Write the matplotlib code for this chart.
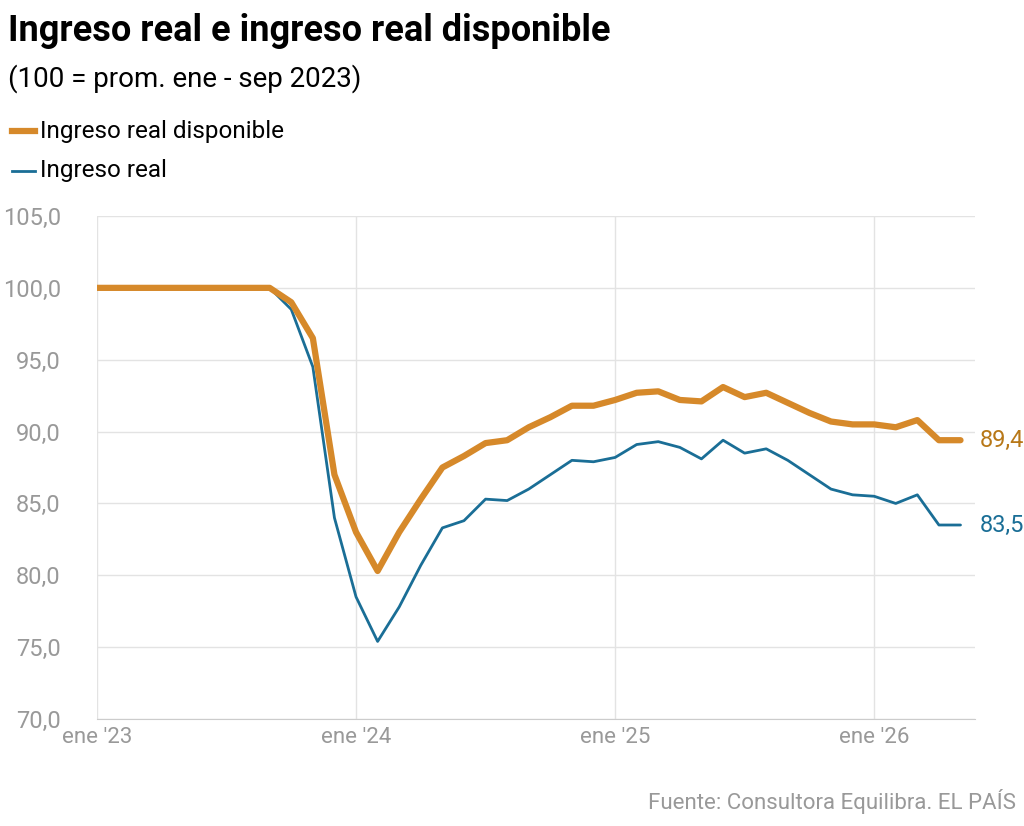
import matplotlib
matplotlib.use("Agg")
import matplotlib.pyplot as plt
import numpy as np

months = list(range(41))
disponible = [100]*9 + [99.0, 96.5, 87.0, 83.0, 80.3, 83.0, 85.3, 87.5, 88.3, 89.2, 89.4,
              90.3, 91.0, 91.8, 91.8, 92.2, 92.7, 92.8, 92.2, 92.1, 93.1, 92.4, 92.7,
              92.0, 91.3, 90.7, 90.5, 90.5, 90.3, 90.8, 89.4, 89.4]
real = [100]*9 + [98.5, 94.5, 84.0, 78.5, 75.4, 77.8, 80.7, 83.3, 83.8, 85.3, 85.2,
        86.0, 87.0, 88.0, 87.9, 88.2, 89.1, 89.3, 88.9, 88.1, 89.4, 88.5, 88.8,
        88.0, 87.0, 86.0, 85.6, 85.5, 85.0, 85.6, 83.5, 83.5]
xticks = [0, 12, 24, 36]
xlabels = ["ene '23", "ene '24", "ene '25", "ene '26"]
yticks = [70, 75, 80, 85, 90, 95, 100, 105]

plt.rcParams['font.family'] = ['Roboto', 'DejaVu Sans']
orange = '#d6892a'
blue = '#1a6e96'
grey = '#999999'

fig = plt.figure(figsize=(10.24, 8.26), dpi=100)
ax = fig.add_axes([0.0947, 0.1295, 0.857, 0.609])
ax.plot(months, real, color=blue, lw=2, solid_capstyle='round', solid_joinstyle='round')
ax.plot(months, disponible, color=orange, lw=4.5, solid_capstyle='round', solid_joinstyle='round')
ax.set_xlim(0, 40.65)
ax.set_ylim(70, 105)
ax.set_yticks(yticks)
ax.set_yticklabels([f"{v:.1f}".replace('.', ',') for v in yticks], color=grey, fontsize=17)
ax.set_xticks(xticks)
ax.set_xticklabels(xlabels, color=grey, fontsize=16)
ax.grid(True, color='#e3e3e3', lw=1)
for s in ['top', 'right', 'left']:
    ax.spines[s].set_visible(False)
ax.spines['bottom'].set_color('#cccccc')
ax.tick_params(axis='y', length=0, pad=26)
ax.tick_params(axis='x', length=0, pad=6)
ax.text(40.9, disponible[-1], "89,4", color='#b87818', fontsize=17, va='center')
ax.text(40.9, real[-1], "83,5", color=blue, fontsize=17, va='center')

fig.text(0.008, 0.962, "Ingreso real e ingreso real disponible", fontsize=26, fontweight='bold', va='center')
fig.text(0.008, 0.905, "(100 = prom. ene - sep 2023)", fontsize=20, va='center')
fig.lines.append(plt.Line2D([0.012, 0.034], [0.841, 0.841], color=orange, lw=4.5, transform=fig.transFigure))
fig.text(0.039, 0.841, "Ingreso real disponible", fontsize=17.5, va='center')
fig.lines.append(plt.Line2D([0.012, 0.034], [0.793, 0.793], color=blue, lw=2, transform=fig.transFigure))
fig.text(0.039, 0.793, "Ingreso real", fontsize=17.5, va='center')
fig.text(0.992, 0.03, "Fuente: Consultora Equilibra. EL PAÍS", fontsize=16, color=grey, ha='right', va='center')
fig.savefig("out.png", dpi=100)
